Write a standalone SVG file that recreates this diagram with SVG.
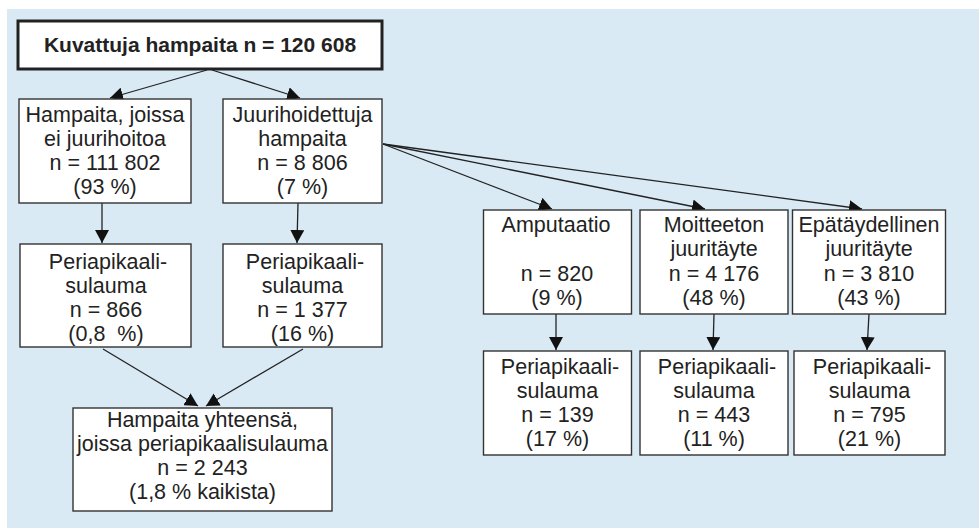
<svg xmlns="http://www.w3.org/2000/svg" width="979" height="530" viewBox="0 0 979 530">
<defs>
<style>
.box{fill:#fff;stroke:#333;stroke-width:1.4}
.top{fill:#fff;stroke:#222;stroke-width:3}
text{font-family:"Liberation Sans",Arial,Helvetica,sans-serif;font-size:21.5px;fill:#222;text-anchor:middle}
.b{font-weight:bold;font-size:21px}
.c{stroke:#222;stroke-width:1.3;fill:none;marker-end:url(#ah)}
</style>
<marker id="ah" markerUnits="userSpaceOnUse" markerWidth="14" markerHeight="14" refX="13" refY="7" orient="auto" viewBox="0 0 14 14">
<path d="M0,0 L13,7 L0,14 Z" fill="#111"/>
</marker>
</defs>
<rect x="0" y="0" width="979" height="530" fill="#fff"/>
<rect x="7" y="9" width="972" height="519" fill="#d9eaf4"/>

<g id="connectors">
<line class="c" x1="207" y1="70" x2="110" y2="98"/>
<line class="c" x1="212" y1="70" x2="300" y2="98"/>
<line class="c" x1="102" y1="203" x2="102" y2="243"/>
<line class="c" x1="298" y1="203" x2="297" y2="243"/>
<line class="c" x1="103" y1="349" x2="198" y2="406"/>
<line class="c" x1="303" y1="349" x2="206" y2="406"/>
<line class="c" x1="383" y1="144" x2="552" y2="209"/>
<line class="c" x1="383" y1="144" x2="705" y2="209"/>
<line class="c" x1="383" y1="144" x2="862" y2="209"/>
<line class="c" x1="556" y1="314" x2="556" y2="350"/>
<line class="c" x1="714" y1="314" x2="713" y2="350"/>
<line class="c" x1="869" y1="314" x2="867" y2="350"/>
</g>

<g id="n-top">
<rect class="top" x="18" y="21" width="364" height="48"/>
<text class="b" x="200" y="52">Kuvattuja hampaita n = 120 608</text>
</g>

<g id="n-ei">
<rect class="box" x="19" y="99" width="172" height="104"/>
<text x="105" y="122">Hampaita, joissa</text>
<text x="105" y="146">ei juurihoitoa</text>
<text x="105" y="170">n = 111 802</text>
<text x="105" y="194">(93 %)</text>
</g>

<g id="n-juuri">
<rect class="box" x="223" y="99" width="159" height="104"/>
<text x="302.5" y="122">Juurihoidettuja</text>
<text x="302.5" y="146">hampaita</text>
<text x="302.5" y="170">n = 8 806</text>
<text x="302.5" y="194">(7 %)</text>
</g>

<g id="n-peri1">
<rect class="box" x="20" y="244" width="171" height="103"/>
<text x="108" y="269">Periapikaali-</text>
<text x="106" y="293">sulauma</text>
<text x="106" y="317">n = 866</text>
<text x="106" y="341">(0,8&#160; %)</text>
</g>

<g id="n-peri2">
<rect class="box" x="223" y="244" width="159" height="103"/>
<text x="305" y="269">Periapikaali-</text>
<text x="302.5" y="293">sulauma</text>
<text x="302.5" y="317">n = 1 377</text>
<text x="302.5" y="341">(16 %)</text>
</g>

<g id="n-total">
<rect class="box" x="73" y="408" width="259" height="103"/>
<text x="202.5" y="427">Hampaita yhteensä,</text>
<text x="202.5" y="451">joissa periapikaalisulauma</text>
<text x="202.5" y="475">n = 2 243</text>
<text x="202.5" y="499">(1,8 % kaikista)</text>
</g>

<g id="n-amp">
<rect class="box" x="483.5" y="210" width="148" height="104"/>
<text x="556" y="232">Amputaatio</text>
<text x="557" y="281">n = 820</text>
<text x="557" y="305">(9 %)</text>
</g>

<g id="n-moit">
<rect class="box" x="640" y="210" width="148" height="104"/>
<text x="714" y="232">Moitteeton</text>
<text x="714" y="256">juuritäyte</text>
<text x="714" y="281">n = 4 176</text>
<text x="714" y="305">(48 %)</text>
</g>

<g id="n-epa">
<rect class="box" x="792.5" y="210" width="153" height="104"/>
<text x="869" y="232">Epätäydellinen</text>
<text x="869" y="256">juuritäyte</text>
<text x="869" y="281">n = 3 810</text>
<text x="869" y="305">(43 %)</text>
</g>

<g id="n-peri3">
<rect class="box" x="483.5" y="351" width="148" height="104"/>
<text x="560" y="374">Periapikaali-</text>
<text x="557.5" y="398">sulauma</text>
<text x="557.5" y="422">n = 139</text>
<text x="557.5" y="446">(17 %)</text>
</g>

<g id="n-peri4">
<rect class="box" x="640" y="351" width="148" height="104"/>
<text x="717" y="374">Periapikaali-</text>
<text x="714" y="398">sulauma</text>
<text x="714" y="422">n = 443</text>
<text x="714" y="446">(11 %)</text>
</g>

<g id="n-peri5">
<rect class="box" x="794" y="351" width="151" height="104"/>
<text x="872" y="374">Periapikaali-</text>
<text x="869.5" y="398">sulauma</text>
<text x="869.5" y="422">n = 795</text>
<text x="869.5" y="446">(21 %)</text>
</g>
</svg>
